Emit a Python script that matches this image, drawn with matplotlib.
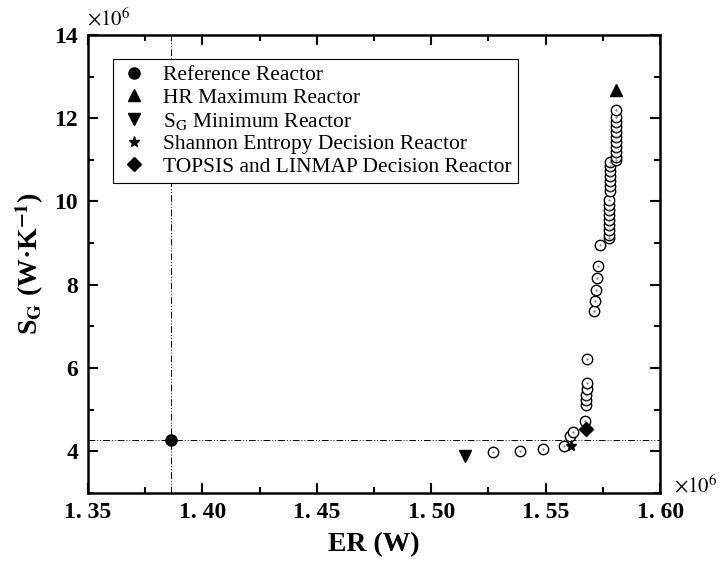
import numpy as np
import matplotlib
matplotlib.use("Agg")
import matplotlib.pyplot as plt
from matplotlib.ticker import MultipleLocator, FuncFormatter

plt.rcParams["mathtext.fontset"] = "stix"

# Pareto frontier points (ER in 1e6 W, S_G in 1e6 W/K)
er_front = [1.5270, 1.5390, 1.5488, 1.5579, 1.5608, 1.5620, 1.5672, 1.5675, 1.5678,
            1.5678, 1.5680, 1.5682, 1.5682, 1.5710, 1.5716, 1.5722, 1.5724, 1.5728,
            1.5736,
            1.5777, 1.5777, 1.5777, 1.5777, 1.5777, 1.5777, 1.5777, 1.5777, 1.5777,
            1.5783, 1.5783, 1.5783, 1.5783, 1.5783, 1.5783, 1.5783,
            1.5806, 1.5806, 1.5806, 1.5806, 1.5806, 1.5806, 1.5806, 1.5806, 1.5806,
            1.5806, 1.5806]
sg_front = [3.97, 4.01, 4.06, 4.13, 4.36, 4.47, 4.72, 5.12, 5.24,
            5.36, 5.50, 5.64, 6.22, 7.36, 7.60, 7.88, 8.16, 8.44,
            8.96,
            9.13, 9.20, 9.32, 9.44, 9.56, 9.68, 9.80, 9.92, 10.04,
            10.24, 10.36, 10.48, 10.60, 10.72, 10.84, 10.96,
            11.00, 11.08, 11.20, 11.32, 11.44, 11.56, 11.68, 11.80, 11.92,
            12.04, 12.20]

ref_pt = (1.3861, 4.257)
hr_max_pt = (1.5806, 12.68)
sg_min_pt = (1.5146, 3.88)
shannon_pt = (1.5610, 4.12)
topsis_pt = (1.5675, 4.54)

x_ticks = [1.35, 1.40, 1.45, 1.50, 1.55, 1.60]
y_ticks = [4, 6, 8, 10, 12, 14]

fig = plt.figure(figsize=(7.21, 5.69), dpi=100)
ax = fig.add_axes([0.122, 0.134, 0.7935, 0.8045])

dash = (0, (7, 2, 1, 2, 1, 2))
ax.axhline(ref_pt[1], color="black", lw=0.7, ls=dash, zorder=1)
ax.axvline(ref_pt[0], color="black", lw=0.7, ls=dash, zorder=1)

ax.plot(er_front, sg_front, "o", ls="none", ms=7.5, mfc="white", mec="black",
        mew=1.0, zorder=2)
ax.plot(er_front, sg_front, ".", ls="none", ms=1.0, color="0.4", zorder=3)

kw = dict(ls="none", color="black", zorder=4)
ax.plot(*ref_pt, "o", ms=8, label="Reference Reactor", **kw)
ax.plot(*hr_max_pt, "^", ms=9, label="HR Maximum Reactor", **kw)
ax.plot(*sg_min_pt, "v", ms=9, label=r"S$_\mathrm{G}$ Minimum Reactor", **kw)
ax.plot(*shannon_pt, "*", ms=8, label="Shannon Entropy Decision Reactor", **kw)
ax.plot(*topsis_pt, "D", ms=7, label="TOPSIS and LINMAP Decision Reactor", **kw)

ax.set_xlim(1.35, 1.60)
ax.set_ylim(3, 14)
ax.set_xticks(x_ticks)
ax.set_yticks(y_ticks)
ax.xaxis.set_minor_locator(MultipleLocator(0.025))
ax.yaxis.set_minor_locator(MultipleLocator(1))
ax.xaxis.set_major_formatter(FuncFormatter(lambda v, p: f"{v:.2f}".replace(".", ". ")))
ax.tick_params(which="both", direction="in", top=True, right=True, width=1.5)
ax.tick_params(which="major", length=7, labelsize=17, pad=7)
ax.tick_params(which="minor", length=4)
for lab in ax.get_xticklabels() + ax.get_yticklabels():
    lab.set_family("Liberation Serif")
    lab.set_fontweight("bold")
for s in ax.spines.values():
    s.set_linewidth(1.8)

ax.set_xlabel("ER (W)", fontsize=20, family="Liberation Serif", fontweight="bold",
              labelpad=6)
ax.set_ylabel(r"S$_\mathbf{G}$ (W·K$^{\mathbf{-1}}$)", fontsize=20,
              family="Liberation Serif", fontweight="bold", labelpad=6)

fig.text(0.12, 0.948, r"$\times10^6$", fontsize=15, ha="left", va="bottom")
fig.text(0.935, 0.128, r"$\times10^6$", fontsize=15, ha="left", va="bottom")

leg = ax.legend(loc="upper left", bbox_to_anchor=(0.044, 0.948), frameon=True,
                fancybox=False, edgecolor="black", framealpha=1,
                prop={"family": "Liberation Serif", "size": 15.5},
                handletextpad=0.7, labelspacing=0.12, borderaxespad=0,
                handlelength=1.3, borderpad=0.3)
leg.get_frame().set_linewidth(0.8)

fig.savefig("out.png", dpi=100)
